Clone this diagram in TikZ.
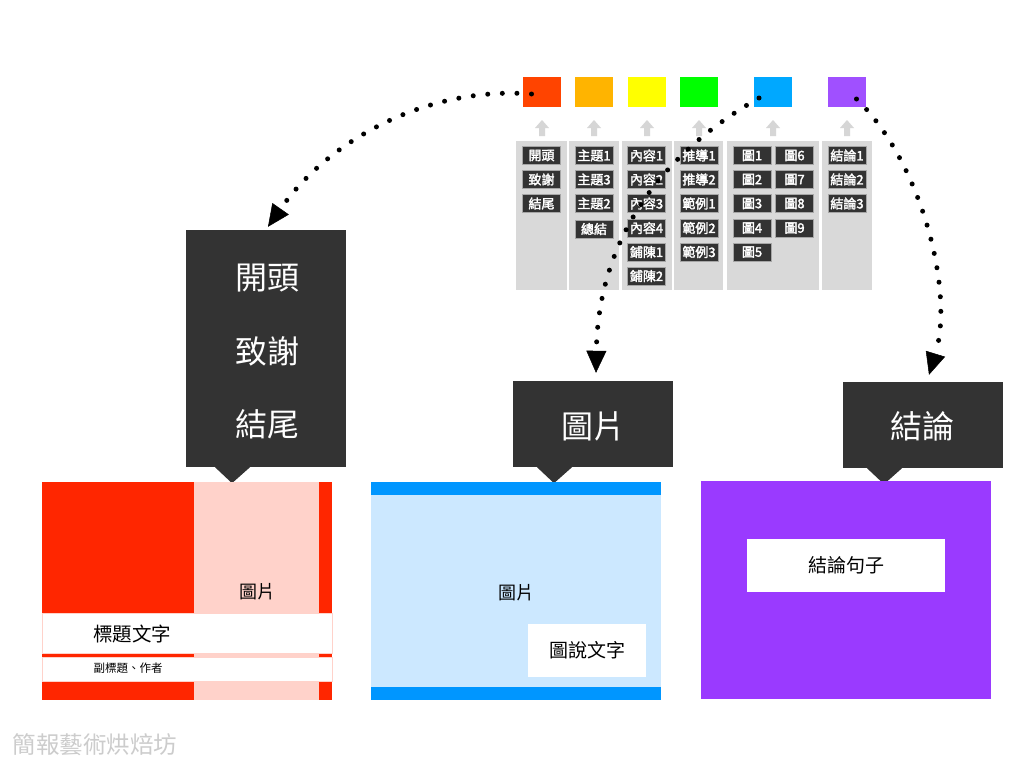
\documentclass[tikz,border=0pt]{standalone}
\usepackage{fontspec}
\newfontfamily\cjk{Noto Sans CJK TC}
\newfontfamily\cjkb{Noto Sans CJK TC}[FakeBold=2.2]
\usetikzlibrary{arrows.meta}
\definecolor{sqRed}{HTML}{FF4400}
\definecolor{sqOrange}{HTML}{FFB400}
\definecolor{sqYellow}{HTML}{FFFF00}
\definecolor{sqGreen}{HTML}{00FF00}
\definecolor{sqBlue}{HTML}{00A8FF}
\definecolor{sqPurple}{HTML}{A050FF}
\definecolor{dark}{HTML}{333333}
\definecolor{colGray}{HTML}{D9D9D9}
\definecolor{arrGray}{HTML}{D6D6D6}
\definecolor{slideRed}{HTML}{FF2600}
\definecolor{slidePink}{HTML}{FFD2CA}
\definecolor{slideBlue}{HTML}{0096FF}
\definecolor{slideLBlue}{HTML}{CCE8FF}
\definecolor{slidePurple}{HTML}{9A3AFF}
\definecolor{footGray}{HTML}{CCCCCC}
\begin{document}
\begin{tikzpicture}[x=1pt,y=-1pt,
  sq/.style={minimum width=38pt,minimum height=30pt,inner sep=0pt},
  colbox/.style={fill=colGray,inner sep=0pt},
  chip/.style={fill=dark,draw=gray!70,line width=0.6pt,text=white,minimum width=38pt,minimum height=18pt,inner sep=0pt,font=\cjkb\fontsize{13}{13}\selectfont},
  callout/.style={fill=dark,inner sep=0pt},
  bigtxt/.style={text=white,font=\cjk\fontsize{32}{32}\selectfont},
  slidetxt/.style={text=black,inner sep=0pt},
  dotline/.style={line width=5pt,line cap=round,dash pattern=on 0pt off 14.6pt,
     -{Triangle[width=20pt,length=22pt,line width=0.5pt]}}
]
\useasboundingbox[fill=white] (0,0) rectangle (1024,768);

% colour squares
\node[sq,fill=sqRed]    (sqA) at (541.5,92) {};
\node[sq,fill=sqOrange] (sqB) at (594,92) {};
\node[sq,fill=sqYellow] (sqC) at (646.5,92) {};
\node[sq,fill=sqGreen]  (sqD) at (699,92) {};
\node[sq,fill=sqBlue]   (sqE) at (773,92) {};
\node[sq,fill=sqPurple] (sqF) at (846.5,92) {};

% grey up arrows
\foreach \x in {542,594,647,699,773,847}
  \fill[arrGray] (\x,120) -- (\x+7,128) -- (\x+3,128) -- (\x+3,136) -- (\x-3,136) -- (\x-3,128) -- (\x-7,128) -- cycle;

% grey columns
\node[colbox,minimum width=51pt,minimum height=149pt] (colA) at (541.5,215.5) {};
\node[colbox,minimum width=50pt,minimum height=149pt] (colB) at (594,215.5) {};
\node[colbox,minimum width=50pt,minimum height=149pt] (colC) at (647,215.5) {};
\node[colbox,minimum width=49pt,minimum height=149pt] (colD) at (698.5,215.5) {};
\node[colbox,minimum width=92pt,minimum height=149pt] (colE) at (773,215.5) {};
\node[colbox,minimum width=50pt,minimum height=149pt] (colF) at (847,215.5) {};

% chips
\node[chip] (a1) at (541.5,155.5) {開頭};
\node[chip] (a2) at (541.5,179.5) {致謝};
\node[chip] (a3) at (541.5,203.5) {結尾};

\node[chip] (b1) at (594,155.5) {主題1};
\node[chip] (b2) at (594,179.5) {主題3};
\node[chip] (b3) at (594,203.5) {主題2};
\node[chip] (b4) at (594,229) {總結};

\node[chip] (c1) at (646.5,155.5) {內容1};
\node[chip] (c2) at (646.5,179.5) {內容2};
\node[chip] (c3) at (646.5,203.5) {內容3};
\node[chip] (c4) at (646.5,228) {內容4};
\node[chip] (c5) at (646.5,252) {鋪陳1};
\node[chip] (c6) at (646.5,276) {鋪陳2};

\node[chip] (d1) at (699,155.5) {推導1};
\node[chip] (d2) at (699,179.5) {推導2};
\node[chip] (d3) at (699,203.5) {範例1};
\node[chip] (d4) at (699,228) {範例2};
\node[chip] (d5) at (699,252) {範例3};

\node[chip] (e1) at (752,155.5) {圖1};
\node[chip] (e2) at (752,179.5) {圖2};
\node[chip] (e3) at (752,203.5) {圖3};
\node[chip] (e4) at (752,228) {圖4};
\node[chip] (e5) at (752,252) {圖5};
\node[chip] (e6) at (794.5,155.5) {圖6};
\node[chip] (e7) at (794.5,179.5) {圖7};
\node[chip] (e8) at (794.5,203.5) {圖8};
\node[chip] (e9) at (794.5,228) {圖9};

\node[chip] (f1) at (847,155.5) {結論1};
\node[chip] (f2) at (847,179.5) {結論2};
\node[chip] (f3) at (847,203.5) {結論3};

% callouts
\node[callout,minimum width=160pt,minimum height=237pt] (cL) at (266,348.5) {};
\fill[dark] ([xshift=-51pt]cL.south) -- ([xshift=-16pt]cL.south) -- ([xshift=-34pt,yshift=-16pt]cL.south) -- cycle;
\node[bigtxt] (tL1) at (267,278) {開頭};
\node[bigtxt] (tL2) at (267,351) {致謝};
\node[bigtxt] (tL3) at (267,424) {結尾};

\node[callout,minimum width=160pt,minimum height=86pt] (cM) at (593,424) {};
\fill[dark] ([xshift=-56pt]cM.south) -- ([xshift=-21pt]cM.south) -- ([xshift=-39pt,yshift=-16pt]cM.south) -- cycle;
\node[bigtxt] (tM) at (593,426) {圖片};

\node[callout,minimum width=160pt,minimum height=86pt] (cR) at (923,425) {};
\fill[dark] ([xshift=-56pt]cR.south) -- ([xshift=-21pt]cR.south) -- ([xshift=-39pt,yshift=-16pt]cR.south) -- cycle;
\node[bigtxt] (tR) at (922,426) {結論};

% left slide
\node[fill=slideRed,minimum width=290pt,minimum height=218pt,inner sep=0pt] (sL) at (187,591) {};
\fill[slidePink] (194,482) rectangle (319,700);
\fill[white] (42,613) rectangle (332,653);
\fill[white] (42,657) rectangle (332,681);
\draw[slidePink,line width=0.5pt] (42,613) rectangle (332,653);
\draw[slidePink,line width=0.5pt] (42,657) rectangle (332,681);
\node[slidetxt,font=\cjk\fontsize{18}{18}\selectfont] (sLpic) at (257,592) {圖片};
\node[slidetxt,font=\cjk\fontsize{19.5}{19.5}\selectfont] (sLtitle) at (132,634) {標題文字};
\node[slidetxt,font=\cjk\fontsize{11.5}{11.5}\selectfont] (sLsub) at (128,668.5) {副標題、作者};

% middle slide
\node[fill=slideLBlue,minimum width=290pt,minimum height=218pt,inner sep=0pt] (sM) at (516,591) {};
\fill[slideBlue] (371,482) rectangle (661,495);
\fill[slideBlue] (371,687) rectangle (661,700);
\node[slidetxt,font=\cjk\fontsize{18}{18}\selectfont] (sMpic) at (516,593) {圖片};
\node[fill=white,minimum width=118pt,minimum height=53pt,inner sep=0pt,font=\cjk\fontsize{19}{19}\selectfont] (sMcap) at (587,650.5) {圖說文字};

% right slide
\node[fill=slidePurple,minimum width=290pt,minimum height=218pt,inner sep=0pt] (sR) at (846,590) {};
\node[fill=white,minimum width=198pt,minimum height=53pt,inner sep=0pt,font=\cjk\fontsize{19}{19}\selectfont] (sRbox) at (846,565.5) {結論句子};

% footer
\node[text=footGray,inner sep=0pt,font=\cjk\fontsize{23.5}{23.5}\selectfont] (foot) at (95,745) {簡報藝術烘焙坊};

% dotted arrows
\draw[dotline] ([xshift=-10pt,yshift=-2pt]sqA.center) .. controls (430,86) and (330,138) .. ([xshift=2pt,yshift=3pt]cL.north);
\draw[dotline] ([xshift=-14pt,yshift=-6pt]sqE.center) .. controls (650,160) and (598,250) .. ([xshift=3pt,yshift=8pt]cM.north);
\draw[dotline] ([xshift=10pt,yshift=-7pt]sqF.center) .. controls (920,160) and (955,290) .. ([xshift=6pt,yshift=7pt]cR.north);
\end{tikzpicture}
\end{document}
